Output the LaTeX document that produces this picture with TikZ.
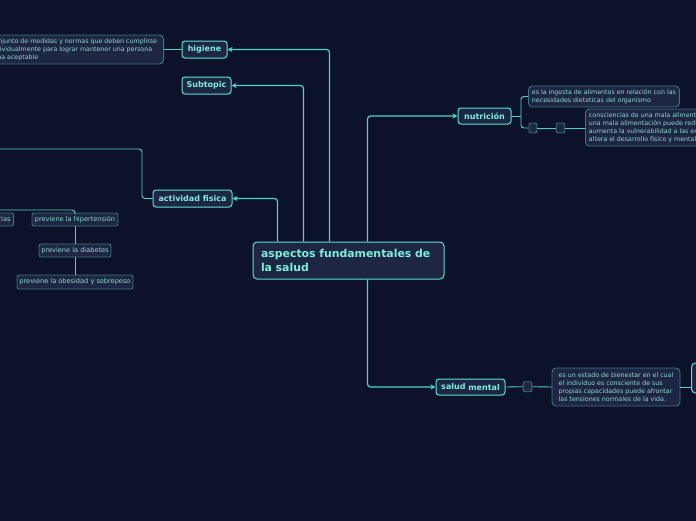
\documentclass[tikz,border=0pt]{standalone}
\usepackage{fontspec}
\setmainfont{DejaVu Sans}
\usetikzlibrary{arrows.meta}
\definecolor{bg}{HTML}{0B1229}
\definecolor{nodefill}{HTML}{1E2741}
\definecolor{bright}{HTML}{5CE2D4}
\definecolor{maintext}{HTML}{7CEEE0}
\definecolor{muted}{HTML}{3E7480}
\definecolor{desctext}{HTML}{8ED8D2}
\definecolor{linecol}{HTML}{4FD3C6}
\tikzset{
  topic/.style={draw=bright, line width=1pt, fill=nodefill, rounded corners=3pt,
    text=maintext, font=\fontsize{8}{9}\selectfont\bfseries, inner sep=0pt, align=center},
  maintopic/.style={draw=bright, line width=1pt, fill=nodefill, rounded corners=4pt,
    text=maintext, font=\fontsize{10.9}{13.5}\selectfont\bfseries, inner xsep=8pt, inner ysep=0pt,
    text width=175pt, align=left, minimum height=37pt},
  desc/.style={draw=muted, line width=0.9pt, fill=nodefill, rounded corners=4pt,
    text=desctext, font=\fontsize{6.3}{7.9}\selectfont, inner xsep=3.5pt, inner ysep=0pt, align=left},
  leaf/.style={draw=muted, line width=0.9pt, fill=nodefill, rounded corners=2pt,
    text=desctext, font=\fontsize{6.6}{7.5}\selectfont, inner sep=0pt, align=center},
  stub/.style={draw=muted, line width=0.9pt, fill=nodefill, rounded corners=2pt, inner sep=0pt},
  conn/.style={draw=linecol, line width=1.2pt, rounded corners=3pt},
  thin/.style={draw=linecol, line width=0.9pt, rounded corners=3pt},
  arr/.style={-{Stealth[length=5pt,width=5pt,inset=1.5pt]}}
}
\begin{document}
\begin{tikzpicture}[x=1pt,y=-1pt]
\useasboundingbox (0,0) rectangle (696,520);
\clip (0,0) rectangle (696,520);
\fill[bg] (-10,-10) rectangle (706,530);

% nodes
\node[maintopic] (main) at (348.5,260.5) {aspectos fundamentales de\\la salud};
\node[topic, minimum width=45pt, minimum height=17pt] (hig) at (204.5,49.5) {higiene};
\node[topic, minimum width=49pt, minimum height=17pt] (sub) at (206.5,85.5) {Subtopic};
\node[topic, minimum width=79pt, minimum height=17pt] (act) at (192.5,198.5) {actividad fisica};
\node[topic, minimum width=53pt, minimum height=16pt] (nut) at (484.5,116) {nutrición};
\node[topic, minimum width=69pt, minimum height=16pt] (sal) at (470.5,387) {\raisebox{0.8pt}{salud} mental};

\node[desc, anchor=east, minimum height=29pt, inner xsep=6.5pt] (higd) at (164,49.5)
  {Conjunto de medidas y normas que deben cumplirse\\individualmente para lograr mantener una persona\\sana aceptable};

\node[leaf, anchor=east, minimum height=13pt, inner xsep=3pt] (rias) at (14,219.5) {previene enfermedades coronarias};
\node[leaf, minimum width=86pt, minimum height=13pt] (hyp) at (75,219.5) {previene la hipertensión};
\node[leaf, minimum width=72pt, minimum height=13pt] (dia) at (75,250.5) {previene la diabetes};
\node[leaf, minimum width=116pt, minimum height=14pt] (obe) at (75,282) {previene la obesidad y sobrepeso};

\node[desc, anchor=west, minimum height=21pt] (nd1) at (528,96.5)
  {es la ingesta de alimentos en relación con las\\necesidades dieteticas del organismo};
\node[stub, minimum width=8pt, minimum height=10pt] (sb1) at (533,128) {};
\node[stub, minimum width=8.5pt, minimum height=10pt] (sb2) at (560.5,128) {};
\node[desc, anchor=west, minimum height=37pt] (nd2) at (585,127.5)
  {consciencias de una mala alimentación:\\una mala alimentación puede reducir las defensas\\aumenta la vulnerabilidad a las enfermedades\\altera el desarrollo físico y mental};

\node[stub, minimum width=8.7pt, minimum height=10pt] (sb3) at (527.5,386.7) {};
\node[desc, minimum width=128pt, minimum height=38pt] (sd) at (616,387)
  {es un estado de bienestar en el cual\\el individuo es consciente de sus\\propias capacidades puede afrontar\\las tensiones normales de la vida.};
\node[draw=bright, line width=1pt, fill=nodefill, rounded corners=4pt, anchor=west,
  minimum width=60pt, minimum height=30pt, inner sep=0pt] (last) at (691,378) {};

\coordinate (offA) at (-5,149);
\coordinate (offB) at (-5,210);
\coordinate (nj) at (521,116);

% connectors from main
\draw[conn,arr] ([xshift=77pt]main.north west) |- (hig);
\draw[conn,arr] ([xshift=51pt]main.north west) |- (sub);
\draw[conn,arr] ([xshift=25pt]main.north west) |- (act);
\draw[conn,arr] ([xshift=115pt]main.north west) |- (nut);
\draw[conn,arr] ([xshift=115pt]main.south west) |- (sal);

% other connectors
\draw[conn] (hig.west) -- (higd.east);
\draw[thin] (act.west) -- ++(-10.5,0) |- (offA);
\draw[thin] (offB) -| (hyp.north);
\draw[thin] (hyp.south) -- (dia.north);
\draw[thin] (dia.south) -- (obe.north);

\draw[thin] (nut.east) -- (nj);
\draw[thin] (nj) |- (nd1.west);
\draw[thin] (nj) |- (sb1.west);
\draw[thin] (sb1.east) -- (sb2.west);
\draw[thin] (sb2.east) -- (sb2.east -| nd2.west);

\draw[thin] (sal.east) -- (sb3.west);
\draw[thin] (sb3.east) -- (sd.west);
\draw[thin] (sd.east) -- (sd.east -| last.west);
\end{tikzpicture}
\end{document}
